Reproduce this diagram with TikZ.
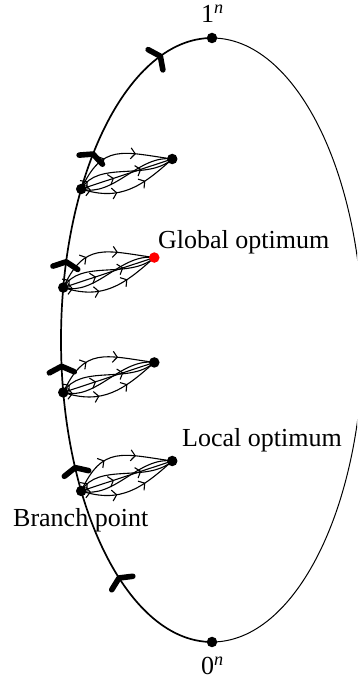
\documentclass[tikz,border=0pt]{standalone}
\usepackage{fontspec}
\setmainfont{Liberation Serif}
\usetikzlibrary{arrows.meta,decorations.markings,calc}
\tikzset{
  lensarr/.tip={Straight Barb[length=4.5pt,width=11pt,line width=1.1pt]},
  dotnode/.style={circle,fill=black,inner sep=0pt,minimum size=10.5pt},
  reddot/.style={circle,fill=red,inner sep=0pt,minimum size=10.5pt},
  bigarm/.style={line width=5.6pt,line cap=round,line join=round},
  lensline/.style={line width=1.1pt},
  twoarr/.style={postaction={decorate,decoration={markings,
      mark=at position 0.36 with {\arrow{lensarr}},
      mark=at position 0.66 with {\arrow{lensarr}}}}},
  startarr/.style={postaction={decorate,decoration={markings,
      mark=at position 0.1 with {\arrow{lensarr}}}}},
  lbl/.style={font=\fontsize{26}{30}\selectfont, inner sep=0pt}
}
\begin{document}
\begin{tikzpicture}[x=1pt,y=1pt]
\useasboundingbox (0,0) rectangle (357,681);
\clip (0,0) rectangle (357,681);
\coordinate (C) at (212,341);
\coordinate (top) at (212,643);
\coordinate (bot) at (212,39);
% right (thin) half of the ellipse
\draw[line width=1pt] (top) arc[start angle=90,end angle=-90,x radius=151,y radius=302];
% left (thick) half
\draw[line width=1.7pt] (bot) arc[start angle=270,end angle=90,x radius=151,y radius=302];
% big arrow heads on the left half
\foreach \a in {232,205,185,165,142,110}{
  \pgfmathsetmacro{\ph}{atan2(-302*cos(\a),151*sin(\a))}
  \coordinate (t\a) at ([shift={(C)}]\a:151 and 302);
  \draw[bigarm,shift={(t\a)},rotate=\ph]
    (-6,12.5) .. controls (-3,6) .. (0,0) .. controls (-3,-6) .. (-6,-12.5);
}
% branch points and optima
\foreach \i/\a in {1/150,2/170,3/190,4/210}{
  \coordinate (b\i) at ([shift={(C)}]\a:151 and 302);
  \coordinate (e\i) at ($(b\i)+(91,30)$);
  \draw[lensline,twoarr] (b\i) to[out=65,in=172,looseness=1.35] (e\i);
  \draw[lensline,twoarr] (b\i) -- (e\i);
  \draw[lensline,twoarr] (b\i) to[out=-18,in=222,looseness=1.1] (e\i);
  \draw[lensline,startarr] (b\i) to[out=60,in=222,looseness=0.9] (e\i);
  \draw[lensline,startarr] (b\i) to[out=-15,in=172,looseness=0.9] (e\i);
}
\foreach \i in {1,2,3,4} \node[dotnode] (B\i) at (b\i) {};
\node[dotnode] (E1) at (e1) {};
\node[reddot] (E2) at (e2) {};
\node[dotnode] (E3) at (e3) {};
\node[dotnode] (E4) at (e4) {};
\node[dotnode] (N1) at (top) {};
\node[dotnode] (N0) at (bot) {};
% labels
\node[lbl,anchor=base] (L1) at (212.5,658) {1\textsuperscript{\textit{n}}};
\node[lbl,anchor=base] (L0) at (212.5,6) {0\textsuperscript{\textit{n}}};
\node[lbl,anchor=base west] (LG) at (158,432) {Global optimum};
\node[lbl,anchor=base west] (LL) at (182,234) {Local optimum};
\node[lbl,anchor=base west] (LB) at (13,154) {Branch point};
\end{tikzpicture}
\end{document}
